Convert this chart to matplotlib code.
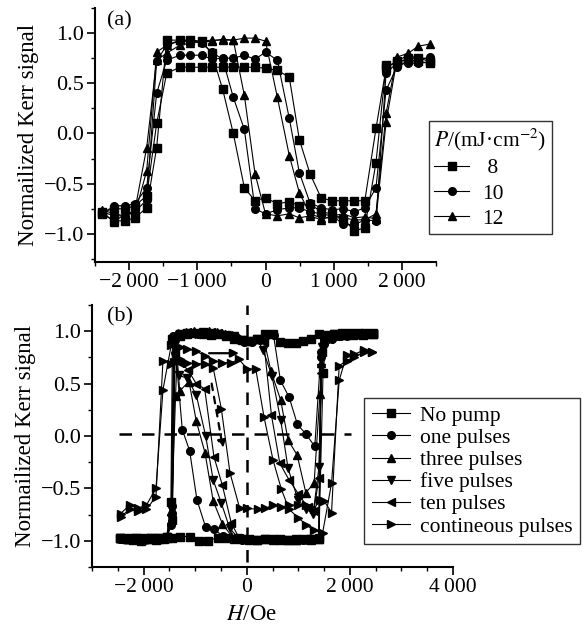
import matplotlib
matplotlib.use('Agg')
import matplotlib.pyplot as plt
from matplotlib.ticker import MultipleLocator, FuncFormatter

plt.rcParams['font.family'] = ['Liberation Serif', 'DejaVu Serif']
plt.rcParams['mathtext.fontset'] = 'stix'

# ---------------- panel (a) data ----------------
a_h = [-2400, -2217, -2060, -1914, -1742, -1596, -1449, -1254, -1107, -935, -789, -628, -472, -310, -154,
       0, 174, 349, 496, 652, 814, 970, 1141, 1302, 1456, 1620, 1768, 1923, 2094, 2240, 2406]
a8_up = [-0.78, -0.75, -0.75, -0.72, -0.62, 0.10, 0.60, 0.66, 0.66, 0.66, 0.66, 0.66, 0.66, 0.66, 0.66,
         0.65, 0.63, 0.56, -0.06, -0.40, -0.64, -0.67, -0.67, -0.67, -0.67, 0.05, 0.65, 0.72, 0.73, 0.72, 0.70]
a8_dn = [-0.80, -0.87, -0.87, -0.84, -0.74, -0.14, 0.93, 0.93, 0.93, 0.92, 0.80, 0.44, 0.00, -0.54, -0.67,
         -0.64, -0.70, -0.68, -0.72, -0.70, -0.78, -0.80, -0.85, -0.97, -0.94, -0.29, 0.68, 0.70, 0.75, 0.75, 0.72]
a10_up = [-0.80, -0.72, -0.72, -0.70, -0.54, 0.40, 0.73, 0.78, 0.78, 0.78, 0.74, 0.75, 0.75, 0.78, 0.74,
          0.81, 0.73, 0.15, -0.39, -0.69, -0.74, -0.76, -0.75, -0.78, -0.74, -0.54, 0.43, 0.66, 0.72, 0.73, 0.76]
a10_dn = [-0.78, -0.82, -0.82, -0.78, -0.66, 0.72, 0.88, 0.92, 0.92, 0.90, 0.81, 0.74, 0.36, 0.04, -0.75,
          -0.80, -0.76, -0.74, -0.74, -0.78, -0.80, -0.82, -0.90, -0.91, -0.86, -0.87, 0.60, 0.70, 0.70, 0.70, 0.71]
a12_up = [-0.78, -0.88, -0.80, -0.80, -0.37, 0.81, 0.88, 0.93, 0.92, 0.91, 0.92, 0.94, 0.93, 0.95, 0.95,
          0.92, 0.36, -0.22, -0.59, -0.80, -0.84, -0.84, -0.84, -0.86, -0.86, -0.80, 0.20, 0.76, 0.80, 0.87, 0.89]
a12_dn = [-0.76, -0.80, -0.82, -0.76, -0.14, 0.73, 0.80, 0.88, 0.90, 0.92, 0.93, 0.93, 0.93, 0.38, -0.40,
          -0.80, -0.82, -0.80, -0.84, -0.82, -0.86, -0.82, -0.80, -0.84, -0.83, -0.85, 0.11, 0.72, 0.78, 0.75, 0.75]
a_labels = [' 8', '10', '12']

# ---------------- panel (b) data ----------------
np_up_h = [-2450, -2300, -2150, -2000, -1850, -1700, -1550, -1470, -1440, -1300, -1150, -1000, -850, -700, -550,
           -400, -250, -100, 50, 200, 350, 500, 650, 800, 950, 1100, 1250, 1400, 1550, 1700, 1850, 2000, 2150, 2300, 2450]
np_up = [-0.97, -0.98, -0.97, -0.98, -0.97, -0.97, -0.96, -0.63, 0.93, 0.95, 0.97, 0.98, 0.97, 0.96, 0.97,
         0.95, 0.93, 0.92, 0.91, 0.93, 0.97, 0.97, 0.90, 0.89, 0.89, 0.91, 0.93, 0.97, 0.96, 0.97, 0.98, 0.98, 0.97, 0.97, 0.98]
np_dn_h = [2450, 2300, 2150, 2000, 1850, 1700, 1550, 1480, 1400, 1250, 1100, 950, 800, 650, 500, 350, 200, 50,
           -100, -250, -400, -566, -760, -922, -1107, -1301, -1450, -1600, -1750, -1900, -2050, -2200, -2350, -2450]
np_dn = [0.97, 0.98, 0.98, 0.97, 0.96, 0.97, 0.95, 0.60, -0.98, -0.98, -0.98, -0.99, -0.99, -0.99, -0.98, -0.98, -0.99, -0.99,
         -0.98, -0.98, -0.97, -0.97, -1.00, -1.00, -0.96, -0.96, -0.97, -0.98, -0.99, -0.98, -1.00, -0.99, -0.98, -0.97]

op_up_h = [-2450, -2300, -2150, -2000, -1850, -1700, -1550, -1460, -1420, -1250, -1100, -950, -800, -650, -500,
           -350, -200, -50, 100, 250, 400, 520, 654, 822, 984, 1146, 1320, 1440, 1500, 1650, 1800, 1950, 2100, 2250, 2450]
op_up = [-0.98, -0.97, -0.98, -0.99, -0.97, -0.98, -0.97, -0.85, 0.95, 0.97, 0.98, 0.97, 0.99, 0.96, 0.97,
         0.96, 0.94, 0.90, 0.90, 0.92, 0.96, 0.96, 0.53, 0.37, 0.11, 0.02, -0.10, 0.80, 0.88, 0.93, 0.95, 0.95, 0.96, 0.96, 0.97]
op_dn_h = [2450, 2250, 2100, 1950, 1800, 1650, 1500, 1440, 1400, 1250, 1100, 950, 800, 650, 500, 350, 200, 50,
           -100, -250, -400, -469, -641, -796, -965, -1107, -1249, -1400, -1440, -1550, -1700, -1850, -2000, -2150, -2300, -2450]
op_dn = [0.97, 0.96, 0.97, 0.96, 0.95, 0.95, 0.93, 0.75, -0.97, -0.98, -0.99, -0.98, -0.99, -0.98, -0.99, -0.98, -0.99, -0.98,
         -0.99, -0.98, -0.97, -0.95, -0.89, -0.87, -0.61, -0.14, 0.06, 0.92, -0.67, -0.97, -0.98, -0.97, -0.98, -0.97, -0.98, -0.97]

tp_up_h = [-2450, -2300, -2150, -2000, -1850, -1700, -1550, -1460, -1380, -1330, -1180, -1030, -880, -730, -580,
           -430, -280, -130, 20, 170, 320, 470, 660, 802, 977, 1146, 1307, 1420, 1470, 1620, 1770, 1920, 2070, 2220, 2450]
tp_up = [-0.97, -0.98, -0.97, -0.98, -0.98, -0.97, -0.96, -0.80, 0.38, 0.98, 0.99, 1.00, 0.98, 1.00, 0.99,
         0.97, 0.96, 0.93, 0.91, 0.93, 0.95, 0.62, 0.34, -0.04, -0.18, -0.54, -0.45, 0.40, 0.92, 0.95, 0.96, 0.97, 0.96, 0.97, 0.98]
tp_dn_h = [2450, 2250, 2100, 1950, 1800, 1650, 1500, 1440, 1400, 1250, 1100, 950, 800, 650, 500, 350, 200, 50,
           -100, -300, -470, -650, -809, -977, -1119, -1300, -1380, -1440, -1550, -1700, -1850, -2000, -2150, -2300, -2450]
tp_dn = [0.97, 0.96, 0.97, 0.97, 0.96, 0.95, 0.95, 0.70, -0.98, -0.99, -0.98, -0.99, -0.99, -0.98, -0.99, -0.98, -0.99, -0.98,
         -0.97, -0.95, -0.84, -0.62, -0.16, 0.14, 0.52, 0.43, 0.97, -0.70, -0.97, -0.98, -0.97, -0.98, -0.97, -0.98, -0.97]

fp_up_h = [-2450, -2300, -2150, -2000, -1850, -1700, -1550, -1460, -1400, -1300, -1150, -1000, -850, -700, -550,
           -400, -250, -100, 50, 200, 317, 491, 660, 802, 996, 1150, 1288, 1400, 1460, 1600, 1750, 1900, 2050, 2200, 2450]
fp_up = [-0.98, -0.97, -0.98, -0.97, -0.98, -0.97, -0.96, -0.78, 0.90, 0.97, 0.98, 0.97, 0.99, 0.98, 0.97,
         0.96, 0.95, 0.92, 0.91, 0.93, 0.82, 0.57, 0.15, -0.31, -0.61, -0.70, -0.74, -0.30, 0.85, 0.93, 0.95, 0.96, 0.97, 0.96, 0.97]
fp_dn_h = [2450, 2250, 2100, 1950, 1800, 1650, 1500, 1440, 1400, 1250, 1100, 950, 800, 650, 500, 350, 200, 50,
           -170, -330, -492, -650, -796, -977, -1150, -1320, -1400, -1450, -1550, -1700, -1850, -2000, -2150, -2300, -2450]
fp_dn = [0.97, 0.96, 0.97, 0.96, 0.96, 0.95, 0.94, 0.65, -0.97, -0.98, -0.99, -0.98, -0.99, -0.98, -0.99, -0.98, -0.99, -0.98,
         -0.97, -0.88, -0.64, -0.42, 0.00, 0.39, 0.55, 0.58, 0.75, -0.78, -0.97, -0.98, -0.97, -0.98, -0.97, -0.98, -0.97]

tn_up_h = [-2450, -2300, -2150, -2000, -1850, -1700, -1550, -1460, -1410, -1300, -1150, -1000, -850, -700, -550,
           -400, -250, -100, 50, 200, 330, 479, 641, 822, 1000, 1180, 1300, 1400, 1460, 1600, 1750, 1900, 2050, 2200, 2450]
tn_up = [-0.97, -0.98, -0.97, -0.98, -0.97, -0.98, -0.96, -0.75, 0.93, 0.98, 0.99, 0.98, 0.97, 0.99, 0.98,
         0.96, 0.94, 0.92, 0.91, 0.93, 0.90, 0.20, -0.26, -0.42, -0.55, -0.68, -0.72, -0.40, 0.80, 0.93, 0.95, 0.96, 0.96, 0.97, 0.97]
tn_dn_h = [2450, 2250, 2100, 1950, 1800, 1650, 1500, 1440, 1400, 1250, 1100, 950, 800, 650, 500, 350, 200, 50,
           -150, -300, -472, -635, -815, -980, -1139, -1285, -1400, -1450, -1550, -1700, -1850, -2000, -2150, -2300, -2450]
tn_dn = [0.97, 0.96, 0.97, 0.96, 0.96, 0.95, 0.94, 0.60, -0.97, -0.98, -0.99, -0.98, -0.99, -0.98, -0.99, -0.98, -0.99, -0.98,
         -0.97, -0.83, -0.47, -0.20, 0.45, 0.50, 0.63, 0.70, 0.80, -0.80, -0.97, -0.98, -0.97, -0.98, -0.97, -0.98, -0.97]

cp_up_h = [-2445, -2270, -2109, -1946, -1760, -1624, -1463, -1300, -1150, -975, -800, -650, -470, -300, -150,
           14, 175, 336, 511, 673, 822, 1000, 1159, 1300, 1470, 1645, 1793, 1935, 2085, 2278, 2420]
cp_up = [-0.74, -0.66, -0.69, -0.66, -0.50, 0.44, 0.87, 0.85, 0.83, 0.81, 0.76, 0.72, 0.70, 0.70, 0.73,
         0.64, 0.64, 0.18, -0.23, -0.51, -0.70, -0.78, -0.85, -0.90, -0.93, -0.45, 0.53, 0.77, 0.78, 0.82, 0.80]
cp_dn_h = [2420, 2278, 2085, 1935, 1793, 1645, 1500, 1418, 1300, 1150, 1000, 822, 673, 511, 361, 217, 14,
           -136, -325, -492, -650, -815, -977, -1150, -1301, -1408, -1463, -1624, -1760, -1946, -2109, -2270, -2445]
cp_dn = [0.80, 0.80, 0.75, 0.72, 0.67, -0.73, -0.62, -0.61, -0.70, -0.66, -0.66, -0.66, -0.68, -0.66, -0.69, -0.70, -0.69,
         -0.69, -0.35, 0.26, 0.65, 0.69, 0.69, 0.70, 0.73, 0.71, 0.69, 0.72, -0.58, -0.70, -0.72, -0.70, -0.77]

b_labels = ['No pump', 'one pulses', 'three pulses', 'five pulses', 'ten pulses', 'contineous pulses']

# guide lines / arrows in (b)
zero_line_y = 0.02
zero_line_x = (-2480, 2020)
arrow_h = ((-730, 0.79), (-150, 0.79))
arrow_d = ((-680, 0.50), (-460, -0.12))

# ---------------- figure ----------------
W, H = 583, 630
fig = plt.figure(figsize=(W / 100, H / 100), dpi=100)
axa = fig.add_axes([95 / W, 1 - 262 / H, 341 / W, 254 / H])
axb = fig.add_axes([92 / W, 1 - 567 / H, 361 / W, 262 / H])


def hfmt(v, pos):
    n = int(round(v))
    s = f"{abs(n):,}".replace(",", "\u2009")
    return ("\u2212" + s) if n < 0 else s


def yfmt(v, pos):
    return f"{v:.1f}".replace("-", "\u2212")


for ax in (axa, axb):
    for side in ('top', 'right'):
        ax.spines[side].set_visible(False)
    for side in ('left', 'bottom'):
        ax.spines[side].set_linewidth(1.5)
    ax.tick_params(which='major', direction='out', length=6, width=1.2, labelsize=16, pad=2)
    ax.tick_params(axis='x', which='major', labelsize=15.5)
    ax.tick_params(which='minor', direction='out', length=3, width=1.0)
    ax.yaxis.set_major_locator(MultipleLocator(0.5))
    ax.yaxis.set_minor_locator(MultipleLocator(0.25))
    ax.yaxis.set_major_formatter(FuncFormatter(yfmt))
    ax.xaxis.set_major_formatter(FuncFormatter(hfmt))
    ax.xaxis.set_minor_locator(MultipleLocator(500))
    ax.set_ylabel('Normailized Kerr signal', fontsize=16.5)

lkw = dict(color='k', lw=0.8, mfc='k', mec='k')

# panel (a)
series_a = [(a8_up, a8_dn, 's', 5.5), (a10_up, a10_dn, 'o', 5.5), (a12_up, a12_dn, '^', 5.5)]
for (up, dn, m, ms), lab in zip(series_a, a_labels):
    axa.plot(a_h, dn, marker=m, ms=ms, **lkw)
    axa.plot(a_h, up, marker=m, ms=ms, label=lab, **lkw)
axa.set_xlim(-2500, 2500)
axa.set_ylim(-1.28, 1.25)
axa.xaxis.set_major_locator(MultipleLocator(1000))
axa.yaxis.set_label_coords(-0.165, 0.5)
axa.text(0.035, 0.949, '(a)', transform=axa.transAxes, fontsize=16, va='center', ha='left')
leg_a = axa.legend(loc='upper left', bbox_to_anchor=(429 / W, 1 - 121 / H), bbox_transform=fig.transFigure,
                   title='$P$/(mJ·cm$^{-2}$)', fontsize=15.5, title_fontsize=15.5, frameon=True, fancybox=False,
                   edgecolor='k', handlelength=1.6, handletextpad=0.6, labelspacing=0.25, borderpad=0.25,
                   borderaxespad=0)
leg_a.get_frame().set_linewidth(1.0)
leg_a._legend_box.align = 'left'

# panel (b)
series_b = [
    (np_up_h, np_up, np_dn_h, np_dn, 's'),
    (op_up_h, op_up, op_dn_h, op_dn, 'o'),
    (tp_up_h, tp_up, tp_dn_h, tp_dn, '^'),
    (fp_up_h, fp_up, fp_dn_h, fp_dn, 'v'),
    (tn_up_h, tn_up, tn_dn_h, tn_dn, '<'),
    (cp_up_h, cp_up, cp_dn_h, cp_dn, '>'),
]
for (uh, u, dh, d, m), lab in zip(series_b, b_labels):
    axb.plot(dh, d, marker=m, ms=5.5, **lkw)
    axb.plot(uh, u, marker=m, ms=5.5, label=lab, **lkw)

axb.plot(zero_line_x, [zero_line_y, zero_line_y], color='k', lw=1.8, dashes=(5, 4))
axb.axvline(0, ymin=0.02, ymax=1.0, color='k', lw=1.8, dashes=(5, 4))
axb.annotate('', xy=arrow_h[1], xytext=arrow_h[0],
             arrowprops=dict(arrowstyle='-|>', color='k', lw=1.6, mutation_scale=12, shrinkA=0, shrinkB=0))
axb.annotate('', xy=arrow_d[1], xytext=arrow_d[0],
             arrowprops=dict(arrowstyle='-|>', color='k', lw=1.6, linestyle=(0, (3, 3)), mutation_scale=12,
                             shrinkA=0, shrinkB=0))

axb.set_xlim(-3000, 4000)
axb.set_ylim(-1.25, 1.25)
axb.xaxis.set_major_locator(MultipleLocator(2000))
axb.yaxis.set_label_coords(-0.155, 0.5)
axb.set_xlabel('$H$/Oe', fontsize=16.5)
axb.xaxis.set_label_coords(0.443, -0.14)
axb.text(0.042, 0.954, '(b)', transform=axb.transAxes, fontsize=16, va='center', ha='left')
leg_b = axb.legend(loc='upper left', bbox_to_anchor=(364 / W, 1 - 398 / H), bbox_transform=fig.transFigure,
                   fontsize=15.5, frameon=True, fancybox=False, edgecolor='k', handlelength=1.8,
                   handletextpad=0.45, labelspacing=0.1, borderpad=0.35, borderaxespad=0)
leg_b.get_frame().set_linewidth(1.0)

fig.savefig('out.png', dpi=100)
